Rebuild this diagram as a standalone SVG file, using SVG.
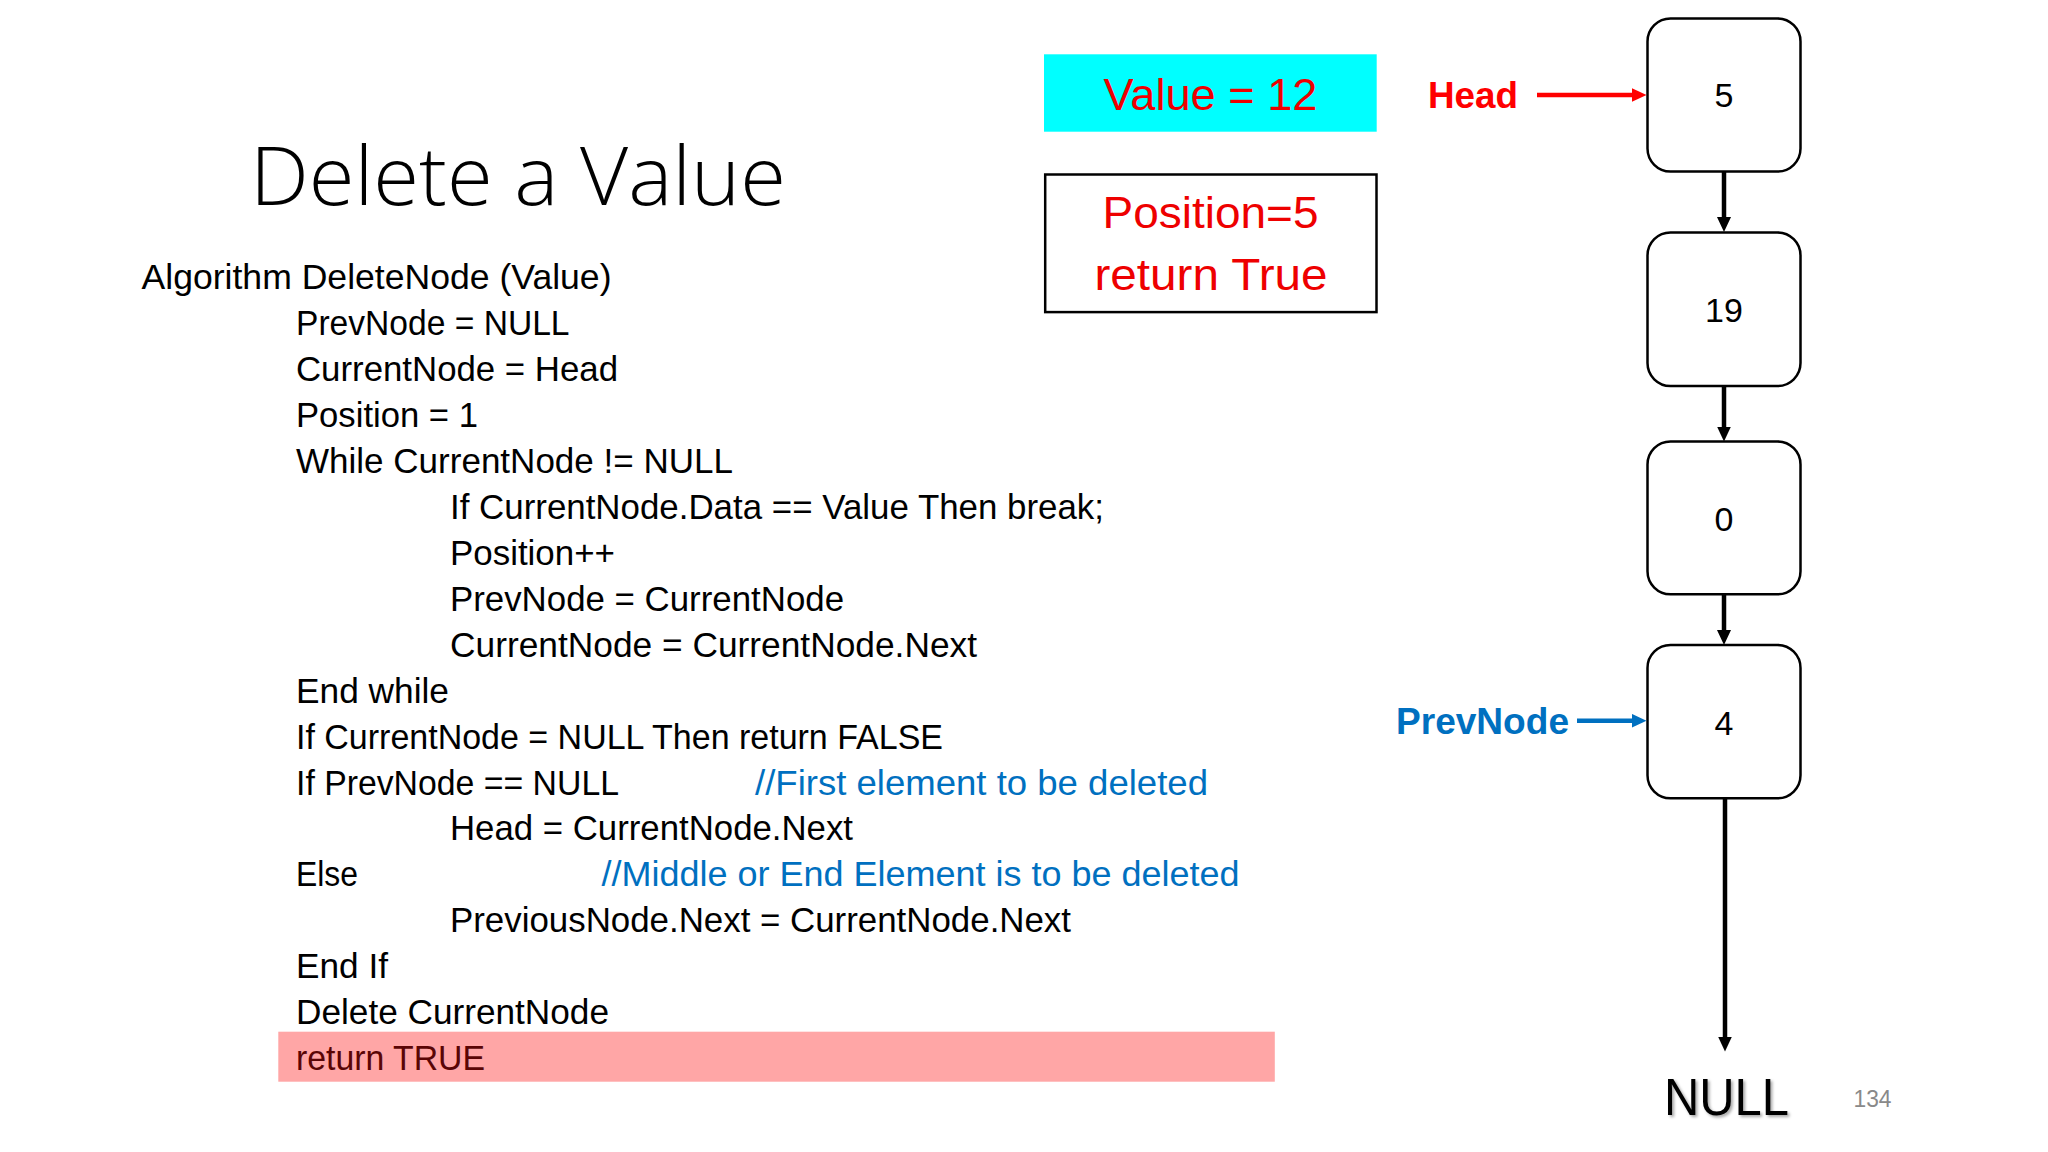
<svg xmlns="http://www.w3.org/2000/svg" width="2048" height="1152" viewBox="0 0 2048 1152">
<style>
.code{font-family:"Liberation Sans",Arial,sans-serif;font-size:34.5px;fill:#000}
.cmt{fill:#0070C0}
.title{font-family:"Open Sans","Lato","Liberation Sans",sans-serif;font-weight:300;font-size:82px;fill:#000}
.big{font-family:"Liberation Sans",Arial,sans-serif;font-size:45px;fill:#ee0000}
.node rect{fill:#fff;stroke:#000;stroke-width:2.5}
.node text{font-family:"Liberation Sans",Arial,sans-serif;font-size:34px;fill:#000;text-anchor:middle}
.lbl{font-family:"Liberation Sans",Arial,sans-serif;font-weight:bold;font-size:37px}
.conn{fill:none;stroke-width:4.5}
</style>
<defs>
<marker id="ahK" markerUnits="userSpaceOnUse" markerWidth="17" markerHeight="15" refX="1" refY="7" orient="auto"><path d="M0,0 L15,7 L0,14 z" fill="#000"/></marker>
<marker id="ahR" markerUnits="userSpaceOnUse" markerWidth="17" markerHeight="15" refX="1" refY="7" orient="auto"><path d="M0,0 L15,7 L0,14 z" fill="#ff0000"/></marker>
<marker id="ahB" markerUnits="userSpaceOnUse" markerWidth="17" markerHeight="15" refX="1" refY="7" orient="auto"><path d="M0,0 L15,7 L0,14 z" fill="#0070C0"/></marker>
<filter id="shadow" x="-10%" y="-10%" width="130%" height="140%"><feDropShadow dx="2" dy="2" stdDeviation="1.5" flood-color="#000" flood-opacity="0.35"/></filter>
</defs>
<rect width="2048" height="1152" fill="#fff"/>

<text class="title" x="250" y="205" textLength="536" lengthAdjust="spacingAndGlyphs">Delete a Value</text>

<g id="code">
<rect x="278.3" y="1031.7" width="996.5" height="50" fill="#ffa6a6"/>
<text class="code" x="141.5" y="289" textLength="470" lengthAdjust="spacingAndGlyphs">Algorithm DeleteNode (Value)</text>
<text class="code" x="296" y="335" textLength="273.5" lengthAdjust="spacingAndGlyphs">PrevNode = NULL</text>
<text class="code" x="296" y="381" textLength="322" lengthAdjust="spacingAndGlyphs">CurrentNode = Head</text>
<text class="code" x="296" y="427" textLength="182" lengthAdjust="spacingAndGlyphs">Position = 1</text>
<text class="code" x="296" y="472.8" textLength="437" lengthAdjust="spacingAndGlyphs">While CurrentNode != NULL</text>
<text class="code" x="450" y="518.8" textLength="654" lengthAdjust="spacingAndGlyphs">If CurrentNode.Data == Value Then break;</text>
<text class="code" x="450" y="564.7" textLength="165" lengthAdjust="spacingAndGlyphs">Position++</text>
<text class="code" x="450" y="610.7" textLength="394" lengthAdjust="spacingAndGlyphs">PrevNode = CurrentNode</text>
<text class="code" x="450" y="656.6" textLength="527" lengthAdjust="spacingAndGlyphs">CurrentNode = CurrentNode.Next</text>
<text class="code" x="296" y="702.6" textLength="153" lengthAdjust="spacingAndGlyphs">End while</text>
<text class="code" x="296" y="748.5" textLength="647" lengthAdjust="spacingAndGlyphs">If CurrentNode = NULL Then return FALSE</text>
<text class="code" x="296" y="794.5" textLength="323" lengthAdjust="spacingAndGlyphs">If PrevNode == NULL</text>
<text class="code cmt" x="755" y="794.5" textLength="453" lengthAdjust="spacingAndGlyphs">//First element to be deleted</text>
<text class="code" x="450" y="840.4" textLength="403" lengthAdjust="spacingAndGlyphs">Head = CurrentNode.Next</text>
<text class="code" x="296" y="886.4" textLength="62" lengthAdjust="spacingAndGlyphs">Else</text>
<text class="code cmt" x="601.5" y="886.4" textLength="638" lengthAdjust="spacingAndGlyphs">//Middle or End Element is to be deleted</text>
<text class="code" x="450" y="932.3" textLength="621" lengthAdjust="spacingAndGlyphs">PreviousNode.Next = CurrentNode.Next</text>
<text class="code" x="296" y="978.3" textLength="92" lengthAdjust="spacingAndGlyphs">End If</text>
<text class="code" x="296" y="1024.2" textLength="313" lengthAdjust="spacingAndGlyphs">Delete CurrentNode</text>
<text class="code" x="296" y="1070.2" textLength="189" lengthAdjust="spacingAndGlyphs" style="fill:#5a0505">return TRUE</text>
</g>

<g id="value-box">
<rect x="1044" y="54.3" width="332.7" height="77.4" fill="#00ffff"/>
<text class="big" x="1210.5" y="110" text-anchor="middle" textLength="214" lengthAdjust="spacingAndGlyphs">Value = 12</text>
</g>

<g id="result-box">
<rect x="1045.2" y="174.5" width="331.3" height="137.6" fill="#fff" stroke="#000" stroke-width="2.5"/>
<text class="big" x="1210.5" y="228.3" text-anchor="middle" textLength="216" lengthAdjust="spacingAndGlyphs">Position=5</text>
<text class="big" x="1211" y="290" text-anchor="middle" textLength="233" lengthAdjust="spacingAndGlyphs">return True</text>
</g>

<g id="head-label">
<text class="lbl" x="1428" y="108.3" fill="#ff0000" textLength="90" lengthAdjust="spacingAndGlyphs">Head</text>
</g>
<g id="prevnode-label">
<text class="lbl" x="1396" y="734" fill="#0070C0" textLength="173" lengthAdjust="spacingAndGlyphs">PrevNode</text>
</g>

<g id="node-5" class="node">
<rect x="1647.5" y="18.5" width="153" height="153" rx="23"/>
<text x="1724" y="107.3">5</text>
</g>
<g id="node-19" class="node">
<rect x="1647.5" y="232.5" width="153" height="153.5" rx="23"/>
<text x="1724" y="321.7">19</text>
</g>
<g id="node-0" class="node">
<rect x="1647.5" y="441.5" width="153" height="152.8" rx="23"/>
<text x="1724" y="530.5">0</text>
</g>
<g id="node-4" class="node">
<rect x="1647.5" y="645" width="153" height="153.3" rx="23"/>
<text x="1724" y="735">4</text>
</g>

<g id="null-label">
<text x="1664" y="1115" font-family="Liberation Sans, Arial, sans-serif" font-size="52" fill="#000" textLength="125" lengthAdjust="spacingAndGlyphs" filter="url(#shadow)">NULL</text>
</g>
<g id="page-number">
<text x="1853.5" y="1106.7" font-family="Liberation Sans, Arial, sans-serif" font-size="23" fill="#898989" textLength="38" lengthAdjust="spacingAndGlyphs">134</text>
</g>

<g id="connectors">
<path class="conn" stroke="#000" d="M1724,172 V218" marker-end="url(#ahK)"/>
<path class="conn" stroke="#000" d="M1724,386 V427.5" marker-end="url(#ahK)"/>
<path class="conn" stroke="#000" d="M1724,594.3 V631" marker-end="url(#ahK)"/>
<path class="conn" stroke="#000" d="M1725,798.3 V1037.5" marker-end="url(#ahK)"/>
<path class="conn" stroke="#ff0000" d="M1537,95 H1632.5" marker-end="url(#ahR)"/>
<path class="conn" stroke="#0070C0" stroke-width="4" d="M1577,720.7 H1632.5" marker-end="url(#ahB)"/>
</g>
</svg>
